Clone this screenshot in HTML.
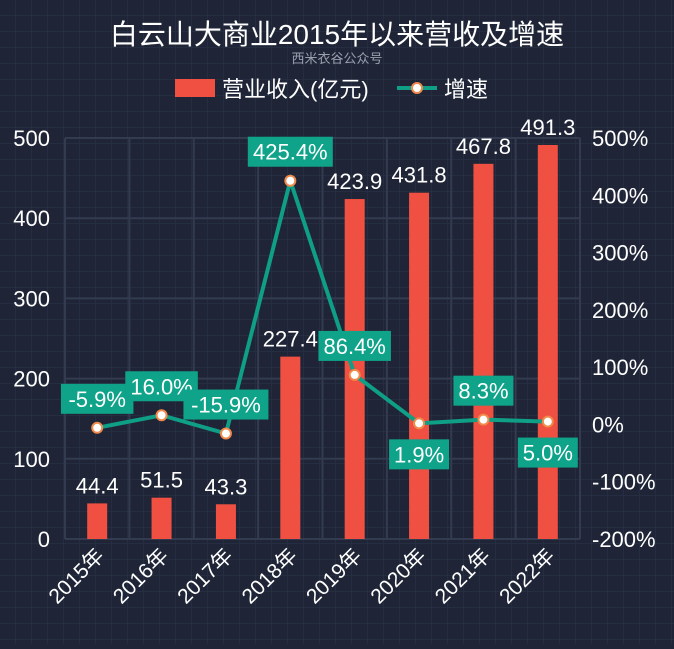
<!DOCTYPE html>
<html><head><meta charset="utf-8"><style>
body{margin:0;width:674px;height:644px;overflow:hidden;background:#1f2536;font-family:"Liberation Sans","Noto Sans CJK SC",sans-serif}
svg text{font-family:"Liberation Sans","Noto Sans CJK SC",sans-serif}
</style></head><body>
<svg id="c" width="674" height="644">
<defs><pattern id="bg" width="16" height="16" patternUnits="userSpaceOnUse"><rect width="16" height="16" fill="#1f2536"/><path d="M16 0V16M0 16H16" stroke="#273044" stroke-width="1.5"/></pattern></defs>
<rect width="674" height="644" fill="url(#bg)"/>
<text x="337" y="44" fill="#fff" font-size="28" text-anchor="middle">白云山大商业2015年以来营收及增速</text>
<text x="337" y="63" fill="#9aa0ad" font-size="13" text-anchor="middle">西米衣谷公众号</text>
<g>
<g><rect x="175" y="79" width="40" height="18" fill="#ef5041"/><text x="222" y="97" fill="#fff" font-size="22">营业收入(亿元)</text></g>
<g><line x1="397" y1="88" x2="437" y2="88" stroke="#0f9e86" stroke-width="4"/><circle cx="417" cy="88" r="5" fill="#fff" stroke="#f08a4b" stroke-width="2"/><text x="444" y="97" fill="#fff" font-size="22">增速</text></g>
</g>
<g id="g"></g>
</svg>
<script>
const categories=["2015年","2016年","2017年","2018年","2019年","2020年","2021年","2022年"];
const revenue=[44.4,51.5,43.3,227.4,423.9,431.8,467.8,491.3];
const growth=[-5.9,16.0,-15.9,425.4,86.4,1.9,8.3,5.0];
const leftTicks=[0,100,200,300,400,500];
const rightTicks=[-200,-100,0,100,200,300,400,500];
const growthLabelBelow=[false,false,false,false,false,true,false,true];
const L=65,R=580,T=138,B=539;
const bw=(R-L)/categories.length;
const xc=i=>L+bw*(i+0.5);
const yL=v=>B-(v-0)/(500-0)*(B-T);
const yR=v=>B-(v+200)/(700)*(B-T);
const g=document.getElementById('g');
const NS='http://www.w3.org/2000/svg';
function mk(t,a,txt){const e=document.createElementNS(NS,t);for(const k in a)e.setAttribute(k,a[k]);if(txt!=null)e.textContent=txt;g.appendChild(e);return e;}
leftTicks.forEach(v=>{
 const l=mk('line',{x1:L,x2:R,y1:yL(v),y2:yL(v),stroke:'#323b50','stroke-width':2});
 
 
 const t=mk('text',{x:50,y:yL(v)+8,fill:'#fff','font-size':22,'text-anchor':'end'},v);
 
 
});
for(let i=0;i<=categories.length;i++){
 const l=mk('line',{x1:L+bw*i,x2:L+bw*i,y1:T,y2:B,stroke:'#323b50','stroke-width':2});
 
 
}
rightTicks.forEach(v=>{
 const t=mk('text',{x:592,y:yR(v)+8,fill:'#fff','font-size':22},v+'%');
 
 
});
categories.forEach((c,i)=>{
 const b=mk('rect',{x:xc(i)-10,y:yL(revenue[i]),width:20,height:B-yL(revenue[i]),fill:'#ef5041'});
 
 
 const t=mk('text',{x:xc(i),y:yL(revenue[i])-10,fill:'#fff','font-size':22,'text-anchor':'middle'},revenue[i]);
 
 
 const x=mk('text',{x:0,y:0,fill:'#fff','font-size':21,'text-anchor':'end',transform:`translate(${xc(i)+8},${B+18}) rotate(-45)`},c);
 
 
});
const pl=mk('polyline',{points:growth.map((v,i)=>xc(i)+','+yR(v)).join(' '),fill:'none',stroke:'#0f9e86','stroke-width':4});


growth.forEach((v,i)=>{
 const p=mk('circle',{cx:xc(i),cy:yR(v),r:5,fill:'#fff',stroke:'#f08a4b','stroke-width':2});
 
 
 const s=v.toFixed(1)+'%';
 const w=s.length*12.5+10;
 const cy=yR(v)+(growthLabelBelow[i]?31:-29);
 const r=mk('rect',{x:xc(i)-w/2,y:cy-15,width:w,height:30,fill:'#0fa38a'});
 
 
 const t=mk('text',{x:xc(i),y:cy+8,fill:'#fff','font-size':22,'text-anchor':'middle'},s);
 
 
});
</script>
</body></html>
